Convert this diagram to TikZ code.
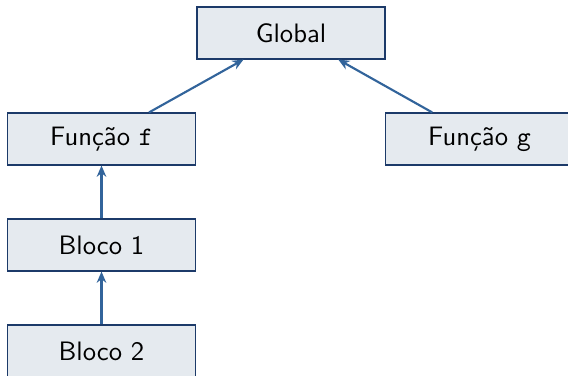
\documentclass[tikz,border=0pt]{standalone}
\usepackage{fontspec}
\usetikzlibrary{arrows.meta}
\definecolor{boxfill}{RGB}{229,234,239}
\definecolor{boxline}{RGB}{28,58,105}
\definecolor{linkcol}{RGB}{50,100,155}
\begin{document}
\begin{tikzpicture}[x=0.375pt,y=-0.375pt,
  scopebox/.style={draw=boxline,fill=boxfill,line width=0.55pt,
    minimum width=70.6pt,minimum height=19.4pt,inner sep=0pt,
    font=\sffamily},
  link/.style={draw=linkcol,line width=0.8pt,-{Stealth[length=4.2pt,width=3.6pt]}}]
  \useasboundingbox (0,0) rectangle (568,376);
  \node[scopebox] (global) at (291,33) {Global};
  \node[scopebox] (fnf) at (101.5,139) {Função \texttt{f}};
  \node[scopebox] (fng) at (479.5,139) {Função \texttt{g}};
  \node[scopebox] (b1) at (101.5,245) {Bloco 1};
  \node[scopebox] (b2) at (101.5,351) {Bloco 2};
  \draw[link] (fnf) -- (global);
  \draw[link] (fng) -- (global);
  \draw[link] (b1) -- (fnf);
  \draw[link] (b2) -- (b1);
\end{tikzpicture}
\end{document}
